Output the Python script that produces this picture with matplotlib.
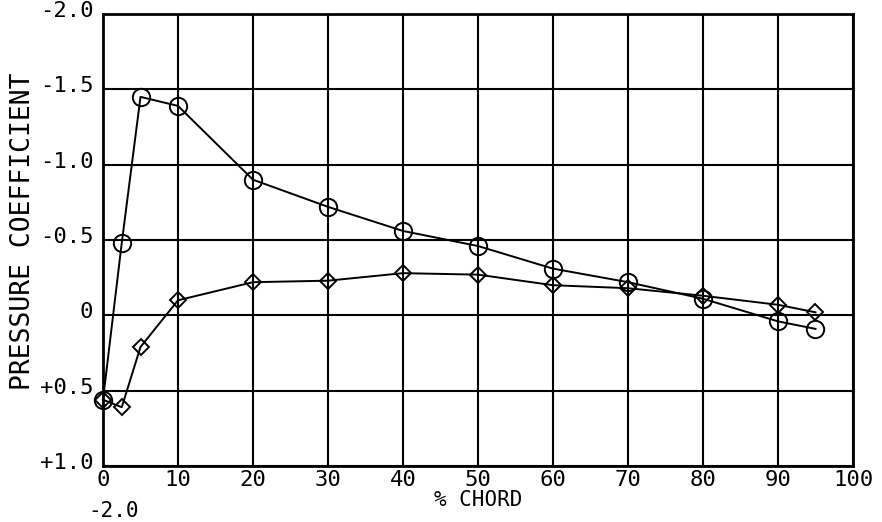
import matplotlib
matplotlib.use("Agg")
import matplotlib.pyplot as plt
from matplotlib.transforms import ScaledTranslation

# Chordwise pressure distribution, two runs
chord_circle = [0, 2.5, 5, 10, 20, 30, 40, 50, 60, 70, 80, 90, 95]
cp_circle = [0.56, -0.48, -1.45, -1.39, -0.90, -0.72, -0.56, -0.46, -0.31, -0.22, -0.11, 0.04, 0.09]

chord_diamond = [0, 2.5, 5, 10, 20, 30, 40, 50, 60, 70, 80, 90, 95]
cp_diamond = [0.56, 0.61, 0.21, -0.10, -0.22, -0.23, -0.28, -0.27, -0.20, -0.18, -0.13, -0.07, -0.02]

x_ticks = [0, 10, 20, 30, 40, 50, 60, 70, 80, 90, 100]
y_ticks = [-2.0, -1.5, -1.0, -0.5, 0.0, 0.5, 1.0]
y_tick_labels = ["-2.0", "-1.5", "-1.0", "-0.5", "0", "+0.5", "+1.0"]

FONT = "DejaVu Sans Mono"

fig = plt.figure(figsize=(8.82, 5.22), dpi=100)
ax = fig.add_axes([103 / 882, 1 - 466 / 522, 750 / 882, 452 / 522])

ax.plot(chord_circle, cp_circle, color="black", lw=1.4, marker="o",
        markersize=12.5, fillstyle="none", markeredgewidth=1.4, zorder=3,
        clip_on=False)
ax.plot(chord_diamond, cp_diamond, color="black", lw=1.4, marker="D",
        markersize=8, fillstyle="none", markeredgewidth=1.4, zorder=3,
        clip_on=False)

ax.set_xlim(0, 100)
ax.set_ylim(1.0, -2.0)
ax.set_xticks(x_ticks)
ax.set_xticklabels([str(v) for v in x_ticks], family=FONT, fontsize=16)
ax.set_yticks(y_ticks)
ax.set_yticklabels(y_tick_labels, family=FONT, fontsize=16)
ax.tick_params(axis="x", length=0, pad=3)
ax.tick_params(axis="y", length=0, pad=7)

# y tick labels sit a little above their grid lines
lift = ScaledTranslation(0, 5 / 100, fig.dpi_scale_trans)
for lbl in ax.get_yticklabels():
    lbl.set_transform(lbl.get_transform() + lift)

ax.grid(True, color="black", lw=1.5)
ax.set_axisbelow(True)
for s in ax.spines.values():
    s.set_linewidth(2)

ax.set_xlabel("% CHORD", family=FONT, fontsize=15, labelpad=0)
ax.set_ylabel("PRESSURE COEFFICIENT", family=FONT, fontsize=19)
ax.yaxis.set_label_coords(-0.09, 0.52)

fig.text(88 / 882, 1 / 522, "-2.0", family=FONT, fontsize=15, va="bottom")

fig.savefig("out.png", dpi=100, facecolor="white")
